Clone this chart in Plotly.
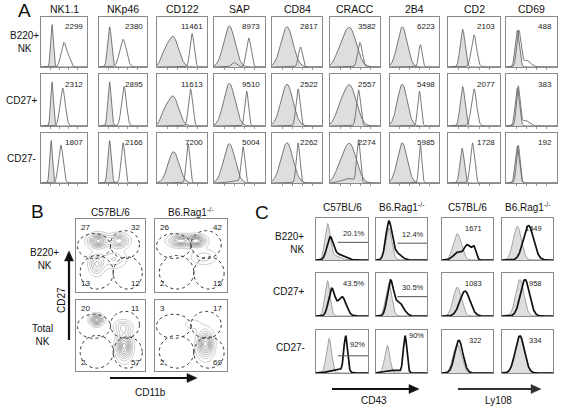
import numpy as np
import plotly.graph_objects as go

W, H = 563, 411

# ---------------- DATA ----------------
# Panel A: markers (columns), populations (rows), MFI values
A_markers = ["NK1.1", "NKp46", "CD122", "SAP", "CD84", "CRACC", "2B4", "CD2", "CD69"]
A_rows = ["B220+<br>NK", "CD27+", "CD27-"]
A_mfi = [[2299, 2312, 1807], [2380, 2895, 2166], [11461, 11613, 7200],
         [8973, 9510, 5004], [2817, 2522, 2262], [3582, 2557, 2274],
         [6223, 5498, 5985], [2103, 2077, 1728], [488, 383, 192]]
# histogram peaks: (centre, spread, height) on 0-100 scale
A_ctrl = [
    [[(24, 3, 0.95)], [(24, 3, 0.95)], [(22, 3, 0.95)]],
    [[(22, 4, 0.9)], [(22, 3.5, 0.95)], [(22, 3.5, 0.95)]],
    [[(32, 11, 0.68), (14, 7, 0.2)], [(32, 11, 0.64), (14, 7, 0.2)], [(33, 11, 0.7)]],
    [[(30, 11, 0.92)], [(30, 11, 0.92)], [(30, 11, 0.88)]],
    [[(30, 12, 0.9)], [(30, 12, 0.9)], [(30, 12, 0.9)]],
    [[(40, 13, 0.85), (20, 10, 0.25)], [(40, 13, 0.85), (20, 10, 0.25)], [(40, 13, 0.85), (20, 10, 0.25)]],
    [[(25, 10, 0.9)], [(25, 10, 0.9)], [(25, 10, 0.9)]],
    [[(28, 4.5, 0.85)], [(28, 4.5, 0.85)], [(27, 4, 0.78)]],
    [[(22, 4, 0.82)], [(22, 4, 0.82)], [(22, 4, 0.82)]],
]
A_stain = [
    [[(50, 6, 0.55), (62, 4, 0.15)], [(47, 5.5, 0.82)], [(43, 5, 0.85)]],
    [[(50, 7, 0.62)], [(52, 5, 0.85)], [(50, 4, 0.9)]],
    [[(70, 4, 0.75)], [(67, 4, 0.8)], [(62, 3.5, 0.88)]],
    [[(68, 4.5, 0.65), (40, 5, 0.1)], [(64, 3.5, 0.75)], [(57, 3.5, 0.8), (40, 10, 0.05)]],
    [[(57, 4, 0.45)], [(52, 4, 0.8)], [(52, 3.5, 0.9)]],
    [[(60, 4.5, 0.55)], [(57, 4, 0.78)], [(57, 3.5, 0.95), (35, 12, 0.1)]],
    [[(62, 3.5, 0.5)], [(60, 3.5, 0.75)], [(62, 3, 0.85)]],
    [[(50, 5, 0.72)], [(50, 5, 0.8)], [(47, 4, 0.9)]],
    [[(25, 4, 0.8), (40, 8, 0.15)], [(24, 3.5, 0.85), (38, 7, 0.12)], [(24, 3.5, 0.85)]],
]

# Panel B: quadrant percentages [TL, TR, BL, BR]
B_cols = ["C57BL/6", "B6.Rag1<sup>-/-</sup>"]
B_rows = ["B220+<br>NK", "Total<br>NK"]
B_pct = [[[27, 32, 13, 12], [26, 42, 2, 15]],
         [[20, 11, 2, 57], [3, 17, 2, 69]]]
# density blobs (cx, cy, sx, sy, weight)
B_blobs = [
    [[(32, 70, 9, 6, 1.0), (62, 70, 9, 6, 0.8), (30, 38, 7, 9, 0.6), (55, 45, 12, 8, 0.35)],
     [(35, 70, 10, 5, 0.9), (58, 70, 8, 5, 1.0), (68, 48, 12, 7, 0.3)]],
    [[(30, 72, 6, 5, 1.0), (70, 35, 7, 12, 1.0), (68, 62, 8, 6, 0.45)],
     [(52, 66, 8, 5, 0.2), (70, 38, 7, 12, 1.0)]],
]
B_gates = [(2, 46, 50, 80), (50, 46, 92, 84), (6, 4, 54, 50), (54, 4, 96, 48)]

# Panel C
C_cols = ["C57BL/6", "B6.Rag1<sup>-/-</sup>", "C57BL/6", "B6.Rag1<sup>-/-</sup>"]
C_rows = ["B220+<br>NK", "CD27+", "CD27-"]
C_ctrl = [
    [[(22, 5, 0.92), (35, 10, 0.12)], [(25, 6, 0.85)], [(30, 8, 0.7)], [(30, 8, 0.9)]],
    [[(22, 5, 0.92)], [(25, 6, 0.85)], [(30, 8, 0.75)], [(35, 8, 0.95)]],
    [[(25, 5, 0.9)], [(22, 5, 0.72)], [(30, 8, 0.75)], [(35, 9, 0.95)]],
]
C_stain = [
    [[(27, 6, 0.55), (42, 12, 0.15)], [(25, 6, 0.95), (38, 10, 0.2)],
     [(30, 8, 0.2), (50, 7, 0.4), (63, 4, 0.3)], [(52, 10, 0.92)]],
    [[(30, 6, 0.7), (50, 8, 0.5)], [(28, 6, 0.88), (45, 9, 0.35)],
     [(45, 10, 0.65)], [(45, 9, 0.95)]],
    [[(57, 3.5, 0.92), (42, 15, 0.08)], [(57, 3.5, 0.95), (33, 15, 0.07)],
     [(33, 8, 0.85)], [(35, 9, 0.97)]],
]
C_labels = [["20.1%", "12.4%", "1671", "1549"],
            ["43.5%", "30.5%", "1083", "958"],
            ["92%", "90%", "322", "334"]]
C_gate_y = [[0.42, 0.4, None, None],
            [None, 0.45, None, None],
            [0.4, None, None, None]]
C_label_y = [[0.48, 0.46, 0.9, 0.9],
             [0.6, 0.51, 0.9, 0.9],
             [0.52, 0.72, 0.9, 0.9]]

# ---------------- LAYOUT GEOMETRY ----------------
A_col_x = [(41, 87), (99, 147), (157, 207), (214, 265), (272, 322), (330, 380), (390, 439), (448, 500), (506, 557)]
A_row_y = [(17, 67), (74, 126), (133, 183)]
B_col_x = [(76, 145), (155, 227)]
B_row_y = [(219, 292), (300, 371)]
C_col_x = [(316, 368), (376, 427), (442, 493), (502, 553)]
C_row_y = [(218, 260), (273, 316), (330, 373)]

FONT = "Liberation Sans, Arial, sans-serif"
xs = np.linspace(0, 100, 301)


def curve(peaks):
    y = np.zeros_like(xs)
    for c, s, h in peaks:
        y += h * np.exp(-0.5 * ((xs - c) / s) ** 2)
    return y


fig = go.Figure()
layout = {}
annotations = []
shapes = []
counter = [0]


def px(x):
    return x / W


def py(y):
    return 1 - y / H


def new_axes(xr, yr, ticks=True):
    counter[0] += 1
    n = counter[0]
    sfx = "" if n == 1 else str(n)
    xd = [xr[0] / W, xr[1] / W]
    yd = [1 - yr[1] / H, 1 - yr[0] / H]
    common = dict(showline=True, mirror=True, linecolor="#8a8a8a", linewidth=1,
                  showgrid=False, zeroline=False, showticklabels=False, fixedrange=True)
    layout["xaxis" + sfx] = dict(domain=xd, range=[0, 100], anchor="y" + sfx,
                                 ticks="outside" if ticks else "", ticklen=2, tickcolor="#999",
                                 tickvals=[20, 40, 60, 80] if ticks else [], **common)
    layout["yaxis" + sfx] = dict(domain=yd, range=[0, 1.12], anchor="x" + sfx,
                                 ticks="", **common)
    return "x" + sfx, "y" + sfx


def text(x, y, t, size=10, xanchor="center", yanchor="middle", color="#111", **kw):
    annotations.append(dict(x=px(x), y=py(y), xref="paper", yref="paper", text=t,
                            showarrow=False, xanchor=xanchor, yanchor=yanchor,
                            font=dict(family=FONT, size=size, color=color), **kw))


def arrow(x0, y0, x1, y1, color="#111"):
    # line plus triangular head, pixel coordinates
    if x0 == x1:
        d = -1 if y1 < y0 else 1
        shapes.append(dict(type="line", xref="paper", yref="paper", x0=px(x0), y0=py(y0),
                           x1=px(x1), y1=py(y1 - d * 8), line=dict(color=color, width=2.2)))
        path = "M {} {} L {} {} L {} {} Z".format(px(x1), py(y1), px(x1 - 4.5), py(y1 - d * 10),
                                                 px(x1 + 4.5), py(y1 - d * 10))
    else:
        shapes.append(dict(type="line", xref="paper", yref="paper", x0=px(x0), y0=py(y0),
                           x1=px(x1 - 8), y1=py(y1), line=dict(color=color, width=2.2)))
        path = "M {} {} L {} {} L {} {} Z".format(px(x1), py(y1), px(x1 - 10), py(y1 - 4.5),
                                                 px(x1 - 10), py(y1 + 4.5))
    shapes.append(dict(type="path", xref="paper", yref="paper", path=path,
                       fillcolor=color, line=dict(color=color, width=0.5)))


# ---------------- PANEL A ----------------
for j, m in enumerate(A_markers):
    x0, x1 = A_col_x[j]
    text((x0 + x1) / 2, 9, m, size=10.5)
    for i in range(3):
        xa, ya = new_axes(A_col_x[j], A_row_y[i])
        fig.add_trace(go.Scatter(x=xs, y=curve(A_ctrl[j][i]), xaxis=xa, yaxis=ya, mode="lines",
                                 fill="tozeroy", fillcolor="#dedede",
                                 line=dict(color="#6a6a6a", width=0.9), hoverinfo="skip",
                                 showlegend=False))
        fig.add_trace(go.Scatter(x=xs, y=curve(A_stain[j][i]), xaxis=xa, yaxis=ya, mode="lines",
                                 line=dict(color="#6a6a6a", width=0.9), hoverinfo="skip",
                                 showlegend=False))
        annotations.append(dict(x=0.95, y=0.93, xref=xa + " domain", yref=ya + " domain",
                                text=str(A_mfi[j][i]), showarrow=False, xanchor="right",
                                yanchor="top", font=dict(family=FONT, size=8, color="#222")))

text(24, 11, "A", size=19)
text(24, 42, A_rows[0], size=10)
text(22, 100, A_rows[1], size=10)
text(21, 158, A_rows[2], size=10)

# ---------------- PANEL B ----------------
gx = np.linspace(0, 100, 81)
GX, GY = np.meshgrid(gx, gx)
for i in range(2):
    for j in range(2):
        xa, ya = new_axes(B_col_x[j], B_row_y[i], ticks=False)
        layout[("yaxis" + xa[1:])]["range"] = [0, 100]
        z = np.zeros_like(GX)
        for cx, cy, sx, sy, w in B_blobs[i][j]:
            z += w * np.exp(-0.5 * (((GX - cx) / sx) ** 2 + ((GY - cy) / sy) ** 2))
        fig.add_trace(go.Contour(x=gx, y=gx, z=z, xaxis=xa, yaxis=ya, showscale=False,
                                 contours=dict(start=0.1, end=1.0, size=0.12, coloring="lines"),
                                 colorscale=[[0, "#a0a0a0"], [1, "#505050"]],
                                 line=dict(width=0.55), hoverinfo="skip"))
        for (ex0, ey0, ex1, ey1) in B_gates:
            shapes.append(dict(type="circle", xref=xa, yref=ya, x0=ex0, y0=ey0, x1=ex1, y1=ey1,
                               line=dict(color="#333", width=1, dash="dot")))
        p = B_pct[i][j]
        for val, (qx, qy, xan, yan) in zip(p, [(0.04, 0.97, "left", "top"), (0.96, 0.97, "right", "top"),
                                                 (0.04, 0.03, "left", "bottom"), (0.96, 0.03, "right", "bottom")]):
            annotations.append(dict(x=qx, y=qy, xref=xa + " domain", yref=ya + " domain",
                                    text=str(val), showarrow=False, xanchor=xan, yanchor=yan,
                                    font=dict(family=FONT, size=8, color="#222")))

for j, c in enumerate(B_cols):
    text((B_col_x[j][0] + B_col_x[j][1]) / 2, 212, c, size=10)
text(37, 211, "B", size=19)
text(44, 259, B_rows[0], size=10)
text(42, 335, B_rows[1], size=10)
text(61, 300, "CD27", size=10, textangle=-90)
text(150, 392, "CD11b", size=10)
arrow(69, 340, 69, 251)
arrow(110, 378, 197, 378)

# ---------------- PANEL C ----------------
for i in range(3):
    for j in range(4):
        xa, ya = new_axes(C_col_x[j], C_row_y[i], ticks=False)
        fig.add_trace(go.Scatter(x=xs, y=curve(C_ctrl[i][j]), xaxis=xa, yaxis=ya, mode="lines",
                                 fill="tozeroy", fillcolor="#dedede",
                                 line=dict(color="#9a9a9a", width=0.9), hoverinfo="skip",
                                 showlegend=False))
        fig.add_trace(go.Scatter(x=xs, y=curve(C_stain[i][j]), xaxis=xa, yaxis=ya, mode="lines",
                                 line=dict(color="#111", width=1.7), hoverinfo="skip",
                                 showlegend=False))
        gy = C_gate_y[i][j]
        lab = C_labels[i][j]
        if gy is not None:
            shapes.append(dict(type="line", xref=xa + " domain", yref=ya + " domain",
                               x0=0.42, x1=1.0, y0=gy, y1=gy, line=dict(color="#555", width=1)))
        if j < 2:
            annotations.append(dict(x=0.98, y=C_label_y[i][j], xref=xa + " domain", yref=ya + " domain",
                                    text=lab, showarrow=False, xanchor="right", yanchor="bottom",
                                    font=dict(family=FONT, size=7.5, color="#222")))
        else:
            annotations.append(dict(x=0.82, y=C_label_y[i][j], xref=xa + " domain", yref=ya + " domain",
                                    text=lab, showarrow=False, xanchor="right", yanchor="top",
                                    font=dict(family=FONT, size=7.5, color="#222")))

for j, c in enumerate(C_cols):
    text((C_col_x[j][0] + C_col_x[j][1]) / 2, 207, c, size=10)
text(262, 212, "C", size=19)
text(307, 243, C_rows[0], size=10, xanchor="right", align="right")
text(307, 291, C_rows[1], size=10, xanchor="right")
text(307, 347, C_rows[2], size=10, xanchor="right")
text(374, 400, "CD43", size=10)
text(498, 400, "Ly108", size=10)
arrow(332, 389, 419, 389)
arrow(458, 389, 541, 389, color="#333")

fig.update_layout(width=W, height=H, margin=dict(l=0, r=0, t=0, b=0),
                  paper_bgcolor="white", plot_bgcolor="white", showlegend=False,
                  annotations=annotations, shapes=shapes, **layout)
fig.write_html("out.html")
